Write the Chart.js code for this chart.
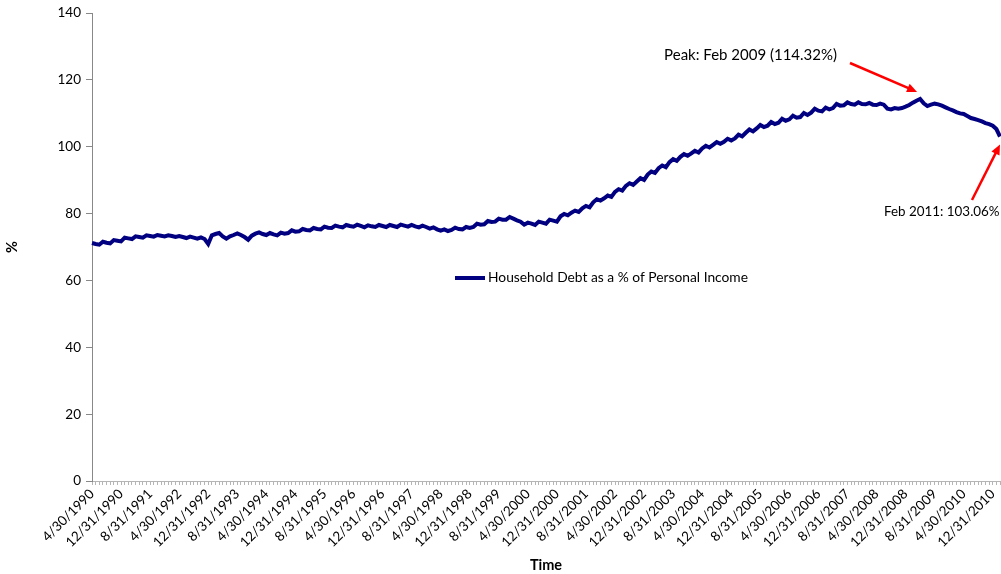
<!DOCTYPE html>
<html>
<head>
<meta charset="utf-8">
<title>Household Debt as a % of Personal Income</title>
<script src="https://cdn.jsdelivr.net/npm/chart.js@4.4.0/dist/chart.umd.min.js"></script>
<style>
    html, body { margin: 0; padding: 0; background: #ffffff; }
    #contenedor { width: 1001px; height: 574px; position: relative; }
</style>
</head>
<body>
<div id="contenedor"><canvas id="graficoDeuda"></canvas></div>
<script>
// Primer mes de la serie (abril 1990) y serie mensual
const mesInicial = { anio: 1990, mes: 4 };

const valores = [
    71.2, 70.9, 70.7, 71.6, 71.3, 71.1, 72.1, 71.9, 71.7,                 // 1990 (abr-dic)
    72.8, 72.6, 72.4, 73.2, 73.0, 72.8, 73.5, 73.3, 73.1, 73.6, 73.4, 73.2, // 1991
    73.5, 73.3, 73.0, 73.3, 73.0, 72.7, 73.1, 72.8, 72.5, 72.9, 72.4, 70.9, // 1992
    73.5, 73.9, 74.2, 73.2, 72.5, 73.2, 73.6, 74.1, 73.6, 73.0, 72.2, 73.4, // 1993
    74.0, 74.4, 73.9, 73.6, 74.2, 73.8, 73.5, 74.3, 74.0, 74.2, 75.0, 74.6, // 1994
    74.7, 75.4, 75.1, 75.0, 75.7, 75.4, 75.3, 76.1, 75.8, 75.7, 76.4, 76.1, // 1995
    75.9, 76.6, 76.3, 76.1, 76.7, 76.3, 75.9, 76.5, 76.2, 76.0, 76.6, 76.3, // 1996
    76.0, 76.6, 76.3, 76.0, 76.7, 76.4, 76.1, 76.6, 76.2, 75.9, 76.4, 76.0, // 1997
    75.5, 75.9, 75.3, 74.9, 75.3, 74.8, 75.1, 75.8, 75.4, 75.3, 76.0, 75.7, // 1998
    76.0, 77.0, 76.7, 76.8, 77.8, 77.5, 77.6, 78.5, 78.2, 78.2, 79.0, 78.5, // 1999
    78.0, 77.6, 76.7, 77.3, 77.0, 76.6, 77.6, 77.3, 77.0, 78.2, 77.9, 77.6, // 2000
    79.2, 79.9, 79.5, 80.3, 80.9, 80.5, 81.6, 82.3, 81.9, 83.4, 84.3, 83.9, // 2001
    84.6, 85.4, 85.0, 86.5, 87.3, 86.9, 88.3, 89.1, 88.6, 89.6, 90.6, 90.1, // 2002
    91.7, 92.6, 92.2, 93.6, 94.4, 93.9, 95.4, 96.3, 95.8, 97.0, 97.8, 97.3, // 2003
    98.0, 98.8, 98.3, 99.5, 100.3, 99.8, 100.6, 101.4, 100.9, 101.5, 102.4, 101.9, // 2004
    102.5, 103.6, 103.1, 104.2, 105.2, 104.6, 105.5, 106.5, 105.9, 106.3, 107.4, 106.8, // 2005
    107.2, 108.4, 107.8, 108.2, 109.3, 108.7, 108.9, 110.1, 109.5, 110.2, 111.4, 110.8, // 2006
    110.6, 111.7, 111.2, 111.6, 112.8, 112.3, 112.4, 113.3, 112.8, 112.6, 113.3, 112.8, // 2007
    112.7, 113.1, 112.6, 112.5, 112.9, 112.6, 111.4, 111.2, 111.6, 111.4, 111.6, 112.0, // 2008
    112.5, 113.2, 113.8, 114.32, 113.0, 112.2, 112.6, 112.9, 112.7, 112.3, 111.8, 111.3, // 2009
    110.9, 110.4, 110.0, 109.8, 109.2, 108.6, 108.3, 108.0, 107.6, 107.1, 106.8, 106.3, // 2010
    105.3, 103.06                                                              // 2011 (ene-feb)
];

// Etiquetas visibles del eje X (una cada 8 meses)
const etiquetasEje = [
    '4/30/1990', '12/31/1990', '8/31/1991', '4/30/1992', '12/31/1992', '8/31/1993',
    '4/30/1994', '12/31/1994', '8/31/1995', '4/30/1996', '12/31/1996', '8/31/1997',
    '4/30/1998', '12/31/1998', '8/31/1999', '4/30/2000', '12/31/2000', '8/31/2001',
    '4/30/2002', '12/31/2002', '8/31/2003', '4/30/2004', '12/31/2004', '8/31/2005',
    '4/30/2006', '12/31/2006', '8/31/2007', '4/30/2008', '12/31/2008', '8/31/2009',
    '4/30/2010', '12/31/2010'
];

const nombreSerie = 'Household Debt as a % of Personal Income';
const textoPico = 'Peak: Feb 2009 (114.32%)';
const textoFinal = 'Feb 2011: 103.06%';

const fuente = 'Lato, "Open Sans", sans-serif';

// Categorías: último día de cada mes
const categorias = [];
for (let i = 0; i < valores.length; i++) {
    const total = mesInicial.mes - 1 + i;
    const anio = mesInicial.anio + Math.floor(total / 12);
    const mes = (total % 12) + 1;
    const dia = new Date(anio, mes, 0).getDate();
    categorias.push(`${mes}/${dia}/${anio}`);
}

function dibujarFlecha(ctx, x1, y1, x2, y2) {
    const ang = Math.atan2(y2 - y1, x2 - x1);
    const largo = 11;
    ctx.save();
    ctx.strokeStyle = '#ff0000';
    ctx.fillStyle = '#ff0000';
    ctx.lineWidth = 2.5;
    ctx.beginPath();
    ctx.moveTo(x1, y1);
    ctx.lineTo(x2 - Math.cos(ang) * largo * 0.8, y2 - Math.sin(ang) * largo * 0.8);
    ctx.stroke();
    ctx.beginPath();
    ctx.moveTo(x2, y2);
    ctx.lineTo(x2 - largo * Math.cos(ang - 0.42), y2 - largo * Math.sin(ang - 0.42));
    ctx.lineTo(x2 - largo * Math.cos(ang + 0.42), y2 - largo * Math.sin(ang + 0.42));
    ctx.closePath();
    ctx.fill();
    ctx.restore();
}

// Leyenda dentro del área y anotaciones con flechas
const pluginAnotaciones = {
    id: 'anotaciones',
    afterDatasetsDraw(chart) {
        const ctx = chart.ctx;
        const escalaX = chart.scales.x;
        const escalaY = chart.scales.y;

        // leyenda
        ctx.save();
        ctx.strokeStyle = '#000080';
        ctx.lineWidth = 4;
        ctx.beginPath();
        ctx.moveTo(455, 278);
        ctx.lineTo(485, 278);
        ctx.stroke();
        ctx.fillStyle = '#000000';
        ctx.font = '13.8px ' + fuente;
        ctx.textBaseline = 'middle';
        ctx.textAlign = 'left';
        ctx.fillText(nombreSerie, 488, 278);
        ctx.restore();

        // pico
        const iPico = valores.indexOf(Math.max(...valores));
        const px = escalaX.getPixelForValue(iPico);
        const py = escalaY.getPixelForValue(valores[iPico]);
        dibujarFlecha(ctx, 850, 63, px - 3, py - 7);

        // último dato
        const iFin = valores.length - 1;
        const fx = escalaX.getPixelForValue(iFin);
        const fy = escalaY.getPixelForValue(valores[iFin]);
        dibujarFlecha(ctx, 972, 200, fx, fy + 8);

        ctx.save();
        ctx.fillStyle = '#000000';
        ctx.font = '15px ' + fuente;
        ctx.textBaseline = 'middle';
        ctx.textAlign = 'right';
        ctx.fillText(textoPico, 837, 55);
        ctx.font = '13.4px ' + fuente;
        ctx.textAlign = 'left';
        ctx.fillText(textoFinal, 884, 212);
        ctx.restore();
    }
};

const ctx = document.getElementById('graficoDeuda').getContext('2d');
new Chart(ctx, {
    type: 'line',
    data: {
        labels: categorias,
        datasets: [{
            label: nombreSerie,
            data: valores,
            borderColor: '#000080',
            backgroundColor: '#000080',
            borderWidth: 4,
            pointRadius: 0,
            tension: 0,
            fill: false
        }]
    },
    options: {
        responsive: true,
        maintainAspectRatio: false,
        animation: false,
        devicePixelRatio: 1,
        layout: { padding: { top: 13, right: 1, left: 0, bottom: 0 } },
        plugins: {
            legend: { display: false },
            tooltip: { enabled: false }
        },
        scales: {
            x: {
                offset: false,
                afterFit(escala) {
                    escala.height = 93;
                    escala.paddingRight = 0;
                },
                grid: {
                    drawOnChartArea: false,
                    drawTicks: true,
                    tickLength: 4,
                    color: '#b5b5b5'
                },
                border: { display: true, color: '#b5b5b5' },
                ticks: {
                    autoSkip: false,
                    minRotation: 45,
                    maxRotation: 45,
                    padding: 1,
                    color: '#000000',
                    font: { family: fuente, size: 13.5 },
                    callback: function (valor, indice) {
                        const etiqueta = categorias[indice];
                        return etiquetasEje.includes(etiqueta) ? etiqueta : '';
                    }
                },
                title: {
                    display: true,
                    text: 'Time',
                    color: '#000000',
                    font: { family: fuente, size: 14.5, weight: 'bold' },
                    padding: { top: 0, bottom: 0 }
                }
            },
            y: {
                min: 0,
                max: 140,
                afterFit(escala) { escala.width = 92; },
                grid: {
                    drawOnChartArea: false,
                    drawTicks: true,
                    tickLength: 6,
                    color: '#888888'
                },
                border: { display: true, color: '#888888' },
                ticks: {
                    stepSize: 20,
                    padding: 5,
                    color: '#000000',
                    font: { family: fuente, size: 13.5 }
                },
                title: {
                    display: true,
                    text: '%',
                    color: '#000000',
                    font: { family: fuente, size: 14.5, weight: 'bold' },
                    padding: { top: 4, bottom: 0 }
                }
            }
        }
    },
    plugins: [pluginAnotaciones]
});
</script>
</body>
</html>
